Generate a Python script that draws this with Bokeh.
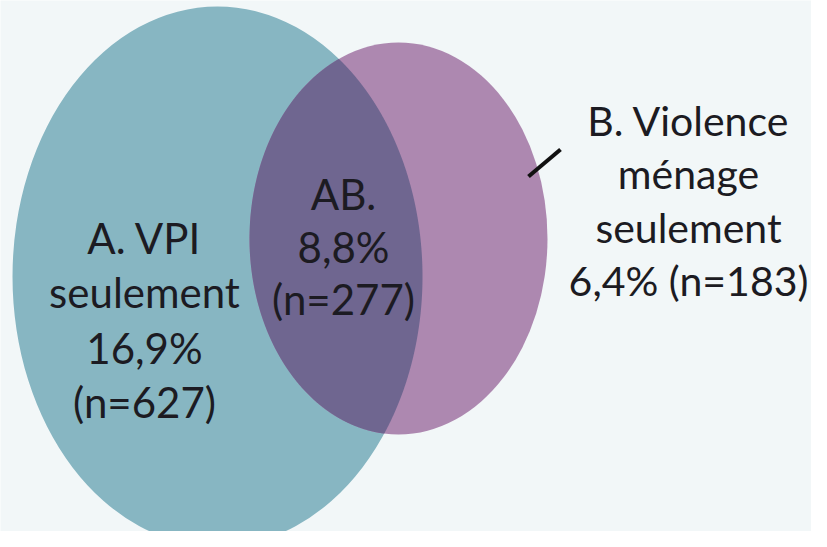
import numpy as np
from bokeh.plotting import figure
from bokeh.models import Range1d, ColumnDataSource
from bokeh.core.properties import value
from bokeh.embed import file_html
from bokeh.resources import INLINE

# ---- data ----
groups = ["A. VPI seulement", "AB.", "B. Violence ménage seulement"]
percents = [16.9, 8.8, 6.4]
counts = [627, 277, 183]

def fr(v):
    return f"{v:.1f}".replace(".", ",") + "%"

label_A = ["A. VPI", "seulement", fr(percents[0]), f"(n={counts[0]})"]
label_AB = ["AB.", fr(percents[1]), f"(n={counts[1]})"]
label_B = ["B. Violence", "ménage", "seulement", f"{fr(percents[2])} (n={counts[2]})"]

# ---- layout (screen-pixel-like coordinates) ----
BG = "#f2f7f8"
TEAL = "#87b6c2"
PURPLE = "#ad88b0"
OVERLAP = "#6f6690"
TXT = "#1c1b22"

A = dict(cx=217, cy=276, rx=205, ry=270)
B = dict(cx=398, cy=238, rx=149, ry=196)

W, H = 811, 531
p = figure(width=W, height=H, output_backend="svg", toolbar_location=None,
           x_range=Range1d(0, W), y_range=Range1d(H, 0),
           min_border=0, background_fill_color=BG, border_fill_color=BG,
           outline_line_color=None)
p.axis.visible = False
p.grid.visible = False

p.ellipse(x=[A["cx"]], y=[A["cy"]], width=[2 * A["rx"]], height=[2 * A["ry"]],
          fill_color=TEAL, line_color=None)
p.ellipse(x=[B["cx"]], y=[B["cy"]], width=[2 * B["rx"]], height=[2 * B["ry"]],
          fill_color=PURPLE, line_color=None)

# intersection polygon of the two ellipses
def boundary(e, n=3000):
    t = np.linspace(0, 2 * np.pi, n, endpoint=False)
    return e["cx"] + e["rx"] * np.cos(t), e["cy"] + e["ry"] * np.sin(t)

def inside(x, y, e):
    return ((x - e["cx"]) / e["rx"]) ** 2 + ((y - e["cy"]) / e["ry"]) ** 2 <= 1.0

ax_, ay_ = boundary(A)
bx_, by_ = boundary(B)
ma = inside(ax_, ay_, B)
mb = inside(bx_, by_, A)
ix = np.concatenate([ax_[ma], bx_[mb]])
iy = np.concatenate([ay_[ma], by_[mb]])
c0x, c0y = ix.mean(), iy.mean()
order = np.argsort(np.arctan2(iy - c0y, ix - c0x))
p.patch(x=ix[order], y=iy[order], fill_color=OVERLAP, line_color=None)

# leader tick for B
p.segment(x0=[528], y0=[176], x1=[560], y1=[149], line_color="#111111",
          line_width=4)

FONT = value("Lato")

def add_lines(lines, xc, baselines, fs):
    src = ColumnDataSource(dict(x=[xc] * len(lines), y=baselines, t=lines))
    p.text(x="x", y="y", text="t", source=src, text_font=FONT,
           text_font_size=fs, text_align="center", text_baseline="alphabetic",
           text_color=TXT)

add_lines(label_A, 144, [237, 291, 347, 401], "42px")
add_lines(label_AB, 343, [193, 246, 298], "42px")
add_lines(label_B, 688, [120, 173, 227, 280], "41px")

open("out.html", "w").write(file_html(p, INLINE))
